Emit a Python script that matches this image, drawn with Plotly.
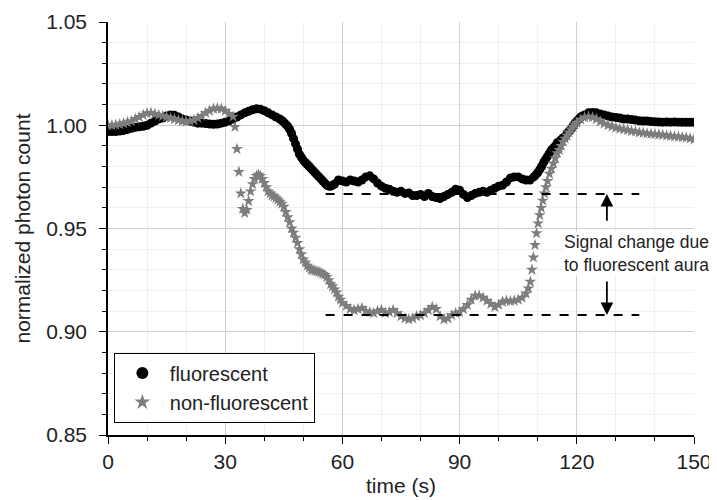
import plotly.graph_objects as go

# fluorescent sample (half-second steps where the signal moves fast)
t_fluor = (
    list(range(0, 44))
    + [44 + 0.5 * i for i in range(29)]          # 44.0 .. 58.0
    + list(range(59, 109))
    + [109 + 0.5 * i for i in range(27)]         # 109.0 .. 122.0
    + list(range(123, 151))
)
y_fluor = [
    0.997, 0.997, 0.997, 0.9972, 0.9975,
    0.998, 0.9985, 0.999, 0.9993, 0.9995,
    1.000, 1.001, 1.002, 1.003, 1.0035,
    1.0045, 1.005, 1.0048, 1.004, 1.003,
    1.0025, 1.002, 1.0015, 1.001, 1.001,
    1.0008, 1.0006, 1.0005, 1.0006, 1.001,
    1.0015, 1.0022, 1.003, 1.004, 1.005,
    1.006, 1.0068, 1.0075, 1.008, 1.0078,
    1.007, 1.006, 1.005, 1.004,
    # 44.0 .. 58.0
    1.003, 1.0023, 1.0015, 1.0005, 0.9995, 0.998, 0.996, 0.9935, 0.991, 0.9885,
    0.986, 0.9845, 0.983, 0.982, 0.981, 0.980, 0.979, 0.978, 0.977, 0.976,
    0.975, 0.974, 0.973, 0.972, 0.971, 0.9705, 0.9705, 0.971, 0.9715,
    # 59 .. 108
    0.9735,
    0.973, 0.9725, 0.9735, 0.973, 0.9725,
    0.9735, 0.975, 0.9755, 0.974, 0.972,
    0.9705, 0.9695, 0.969, 0.968, 0.9675,
    0.968, 0.967, 0.9672, 0.966, 0.966,
    0.9665, 0.9655, 0.967, 0.9655, 0.965,
    0.9645, 0.9655, 0.9665, 0.9675, 0.969,
    0.9685, 0.9665, 0.965, 0.966, 0.967,
    0.9675, 0.968, 0.9675, 0.9685, 0.9695,
    0.9705, 0.971, 0.9725, 0.9745, 0.975,
    0.975, 0.974, 0.9735, 0.9735,
    # 109.0 .. 122.0
    0.975, 0.976, 0.977, 0.9785, 0.980, 0.982, 0.9835, 0.985, 0.9865, 0.988,
    0.989, 0.990, 0.9915, 0.992, 0.993, 0.994, 0.9945, 0.996, 0.997, 0.998,
    0.9995, 1.001, 1.002, 1.003, 1.004, 1.0045, 1.005,
    # 123 .. 150
    1.006, 1.0062,
    1.006, 1.0055, 1.005, 1.0045, 1.004,
    1.0038, 1.0035, 1.003, 1.003, 1.0028,
    1.0025, 1.0022, 1.002, 1.002, 1.0018,
    1.0017, 1.0016, 1.0015, 1.0016, 1.0015,
    1.0016, 1.0015, 1.0014, 1.0014, 1.0014,
    1.0014,
]

# non-fluorescent sample (denser where the signal jumps)
t_nonfl = (
    list(range(0, 33))
    + [32.5, 33.0, 33.5, 34.0, 34.5, 35.0, 35.5, 36.0, 36.5, 37.0, 37.5, 38.0, 38.5]
    + [39 + 0.5 * i for i in range(43)]          # 39.0 .. 60.0
    + list(range(61, 108))
    + [107.6, 108.1, 108.5, 108.9, 109.3, 109.7, 110.1, 110.5, 110.9, 111.3,
       111.7, 112.1, 112.5, 113.0, 113.5, 114.0, 114.5, 115.0, 115.5, 116.0,
       116.5, 117.0, 117.5, 118.0, 118.5, 119.0, 119.5]
    + list(range(120, 151))
)
y_nonfl = [
    1.000, 1.000, 1.0002, 1.0005, 1.001,
    1.0015, 1.002, 1.003, 1.004, 1.005,
    1.0058, 1.006, 1.0055, 1.005, 1.0045,
    1.004, 1.0035, 1.003, 1.0025, 1.002,
    1.0018, 1.002, 1.0025, 1.0035, 1.0045,
    1.006, 1.007, 1.008, 1.0082, 1.008,
    1.007, 1.0055, 1.0042,
    # 32.5 .. 38.5
    0.9992, 0.9885, 0.9774, 0.967, 0.9595, 0.9575, 0.959, 0.9633, 0.968,
    0.9715, 0.974, 0.9755, 0.976,
    # 39.0 .. 60.0
    0.9755, 0.974, 0.972, 0.970, 0.968, 0.967, 0.966, 0.9655, 0.9648, 0.964,
    0.963, 0.962, 0.9605, 0.958, 0.9555, 0.953, 0.950, 0.948, 0.9455, 0.943,
    0.940, 0.9375, 0.935, 0.9335, 0.932, 0.931, 0.930, 0.9298, 0.9295, 0.9292,
    0.929, 0.9285, 0.928, 0.9275, 0.9265, 0.925, 0.923, 0.922, 0.9205, 0.919,
    0.917, 0.9155, 0.914,
    # 61 .. 107
    0.9125, 0.911, 0.9105, 0.911, 0.9115, 0.910, 0.9095, 0.909,
    0.910, 0.9105, 0.909, 0.9095, 0.9105, 0.909, 0.9075, 0.9065, 0.906, 0.9065,
    0.9075, 0.908, 0.909, 0.9105, 0.912, 0.911, 0.9075, 0.906, 0.9065, 0.908,
    0.909, 0.9095, 0.911, 0.913, 0.9155, 0.9175, 0.9175, 0.9165, 0.915, 0.9135,
    0.912, 0.913, 0.9145, 0.915, 0.9148, 0.915, 0.9155, 0.9165, 0.9185,
    # 107.6 .. 119.5
    0.921, 0.9242, 0.930, 0.936, 0.942, 0.9477, 0.9525, 0.9565, 0.960, 0.9635,
    0.967, 0.970, 0.973, 0.9765, 0.979, 0.9815, 0.984, 0.9865, 0.988, 0.990,
    0.992, 0.9935, 0.995, 0.9965, 0.998, 0.9992, 1.0003,
    # 120 .. 150
    1.0012, 1.0028, 1.0038, 1.0042, 1.0038, 1.003, 1.0018, 1.0008, 1.000, 0.9995,
    0.9988, 0.9983, 0.998, 0.9977, 0.9972, 0.997, 0.9965, 0.9963, 0.996, 0.9958,
    0.9957, 0.9955, 0.9953, 0.995, 0.9948, 0.9946, 0.9944, 0.9942, 0.994, 0.9936,
    0.9932,
]

# reference levels and annotation
upper_level = 0.9667
lower_level = 0.9081
dash_start, dash_end = 55.7, 136
arrow_t = 127.7
upper_tail, lower_tail = 0.953, 0.925
note_t, note_y = 135.3, 0.938
note_text = "Signal change due<br>to fluorescent aura"

FONT = "Arial, Liberation Sans, sans-serif"
TXT = "#222"

fig = go.Figure()

fig.add_trace(go.Scatter(
    x=t_fluor, y=y_fluor, mode="markers", name="fluorescent",
    marker=dict(symbol="circle", size=9, color="black")))

fig.add_trace(go.Scatter(
    x=t_nonfl, y=y_nonfl, mode="markers", name="non-fluorescent",
    marker=dict(symbol="star", size=9, color="#7d7d7d", line=dict(width=0))))

for lvl in (upper_level, lower_level):
    fig.add_shape(type="line", x0=dash_start, x1=dash_end, y0=lvl, y1=lvl,
                  line=dict(color="black", width=2, dash="dash"))

fig.add_annotation(x=note_t, y=note_y, text=note_text, showarrow=False,
                   font=dict(family=FONT, size=17.5, color=TXT),
                   bgcolor="white", align="left", borderpad=0)
fig.add_annotation(x=arrow_t, y=upper_level, ax=arrow_t, ay=upper_tail,
                   axref="x", ayref="y", text="", showarrow=True,
                   arrowhead=2, arrowsize=1.4, arrowwidth=1.8, arrowcolor="black")
fig.add_annotation(x=arrow_t, y=lower_level, ax=arrow_t, ay=lower_tail,
                   axref="x", ayref="y", text="", showarrow=True,
                   arrowhead=2, arrowsize=1.4, arrowwidth=1.8, arrowcolor="black")

axis_common = dict(showline=True, linecolor="black", linewidth=1.5, automargin=False,
                   zeroline=False, ticklabeloverflow="allow",
                   tickfont=dict(family=FONT, size=21, color=TXT))

fig.update_xaxes(
    range=[0, 150], tickvals=[0, 30, 60, 90, 120, 150],
    ticks="outside", ticklen=7, tickcolor="black",
    showgrid=True, gridcolor="#cfcfcf", gridwidth=1,
    minor=dict(dtick=10, ticks="outside", ticklen=4, tickcolor="black",
               showgrid=True, gridcolor="#f0f0f0"),
    title=dict(text="time (s)", font=dict(family=FONT, size=21, color=TXT), standoff=6),
    **axis_common)

fig.update_yaxes(
    range=[0.85, 1.05], tickvals=[0.85, 0.90, 0.95, 1.00, 1.05],
    tickformat=".2f", ticklabelstandoff=8,
    ticks="outside", ticklen=7, tickcolor="black",
    showgrid=True, gridcolor="#cfcfcf", gridwidth=1,
    minor=dict(dtick=0.01, ticks="outside", ticklen=4, tickcolor="black",
               showgrid=True, gridcolor="#f0f0f0"),
    title=dict(text="normalized photon count", font=dict(family=FONT, size=21, color=TXT), standoff=10),
    **axis_common)

# the page adds an 8 px body margin, so the figure is a little smaller than the window
fig.update_layout(
    width=709, height=492,
    margin=dict(l=100, r=23, t=14, b=65, autoexpand=False),
    plot_bgcolor="white", paper_bgcolor="white",
    xaxis2=dict(overlaying="x", anchor="y", side="top", range=[0, 150],
                tickvals=[0, 30, 60, 90, 120, 150], showticklabels=False,
                ticks="inside", ticklen=7, tickcolor="black",
                minor=dict(dtick=10, ticks="inside", ticklen=4, tickcolor="black"),
                showgrid=False, showline=True, linecolor="black", linewidth=1.5,
                zeroline=False, automargin=False),
    yaxis2=dict(overlaying="y", anchor="x", side="right", range=[0.85, 1.05],
                tickvals=[0.85, 0.90, 0.95, 1.00, 1.05], showticklabels=False,
                ticks="inside", ticklen=7, tickcolor="black",
                minor=dict(dtick=0.01, ticks="inside", ticklen=4, tickcolor="black"),
                showgrid=False, showline=True, linecolor="black", linewidth=1.5,
                zeroline=False, automargin=False),
    legend=dict(x=0.01, y=0.03, xanchor="left", yanchor="bottom",
                bgcolor="white", bordercolor="black", borderwidth=1,
                font=dict(family=FONT, size=20, color=TXT),
                itemsizing="constant", itemwidth=45),
)

fig.write_html("out.html")
